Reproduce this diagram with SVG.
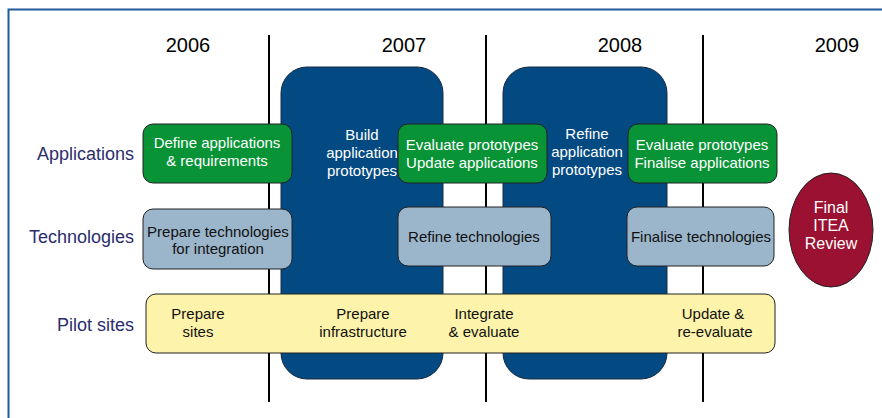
<svg xmlns="http://www.w3.org/2000/svg" width="882" height="418" viewBox="0 0 882 418">
<style>
text{font-family:"Liberation Sans",Arial,sans-serif;}
.yr{font-size:20px;fill:#000;text-anchor:middle;}
.row{font-size:18px;fill:#2B2D6B;text-anchor:end;}
.t{font-size:15px;text-anchor:middle;}
.w{fill:#fff;}
.k{fill:#111;}
.green{fill:#079336;stroke:#222;stroke-width:1;}
.tech{fill:#9BB5CB;stroke:#222;stroke-width:1;}
.dark{fill:#034A83;stroke:#1a2a40;stroke-width:1;}
.pilot{fill:#FDF3AA;stroke:#222;stroke-width:1;}
.vl{stroke:#000;stroke-width:2;}
</style>
<rect width="882" height="418" fill="#fff"/>
<path d="M8.5,418 V9.5 H882" fill="none" stroke="#1F5B9A" stroke-width="2"/>
<g id="years">
<text class="yr" x="188" y="52">2006</text>
<text class="yr" x="404" y="52">2007</text>
<text class="yr" x="620" y="52">2008</text>
<text class="yr" x="837" y="52">2009</text>
</g>
<g id="dividers">
<line class="vl" x1="269" y1="35" x2="269" y2="402"/>
<line class="vl" x1="486" y1="35" x2="486" y2="402"/>
<line class="vl" x1="703" y1="35" x2="703" y2="402"/>
</g>
<g id="rowlabels">
<text class="row" x="134" y="160">Applications</text>
<text class="row" x="134" y="243">Technologies</text>
<text class="row" x="134" y="331">Pilot sites</text>
</g>
<g id="build">
<rect class="dark" x="281" y="67" width="162" height="312" rx="26"/>
<text class="t w" x="362" y="140">Build</text>
<text class="t w" x="362" y="158">application</text>
<text class="t w" x="362" y="176">prototypes</text>
</g>
<g id="refine">
<rect class="dark" x="503" y="67" width="164" height="312" rx="26"/>
<text class="t w" x="587" y="139">Refine</text>
<text class="t w" x="587" y="157">application</text>
<text class="t w" x="587" y="175">prototypes</text>
</g>
<g id="define">
<rect class="green" x="143" y="124" width="149" height="59" rx="10"/>
<text class="t w" x="217" y="148">Define applications</text>
<text class="t w" x="217" y="166">&amp; requirements</text>
</g>
<g id="eval1">
<rect class="green" x="398" y="124" width="149" height="59" rx="10"/>
<text class="t w" x="472" y="150">Evaluate prototypes</text>
<text class="t w" x="472" y="168">Update applications</text>
</g>
<g id="eval2">
<rect class="green" x="628" y="124" width="149" height="59" rx="10"/>
<text class="t w" x="702" y="150">Evaluate prototypes</text>
<text class="t w" x="702" y="168">Finalise applications</text>
</g>
<g id="preptech">
<rect class="tech" x="143" y="209" width="149" height="60" rx="10"/>
<text class="t k" x="218" y="237">Prepare technologies</text>
<text class="t k" x="218" y="254">for integration</text>
</g>
<g id="refinetech">
<rect class="tech" x="398" y="207" width="153" height="59" rx="10"/>
<text class="t k" x="474" y="242">Refine technologies</text>
</g>
<g id="finaltech">
<rect class="tech" x="627" y="207" width="147" height="59" rx="10"/>
<text class="t k" x="701" y="242">Finalise technologies</text>
</g>
<g id="pilot">
<rect class="pilot" x="146" y="294" width="629" height="59" rx="10"/>
<text class="t k" x="198" y="319">Prepare</text>
<text class="t k" x="198" y="337">sites</text>
<text class="t k" x="363" y="319">Prepare</text>
<text class="t k" x="363" y="337">infrastructure</text>
<text class="t k" x="484" y="319">Integrate</text>
<text class="t k" x="484" y="337">&amp; evaluate</text>
<text class="t k" x="713" y="319">Update &amp;</text>
<text class="t k" x="715" y="337">re-evaluate</text>
</g>
<g id="review">
<ellipse cx="831" cy="230" rx="42" ry="57" fill="#9B1131" stroke="#222" stroke-width="1"/>
<text class="t w" x="831" y="213" style="font-size:16px">Final</text>
<text class="t w" x="831" y="231" style="font-size:16px">ITEA</text>
<text class="t w" x="831" y="249" style="font-size:16px">Review</text>
</g>
</svg>
